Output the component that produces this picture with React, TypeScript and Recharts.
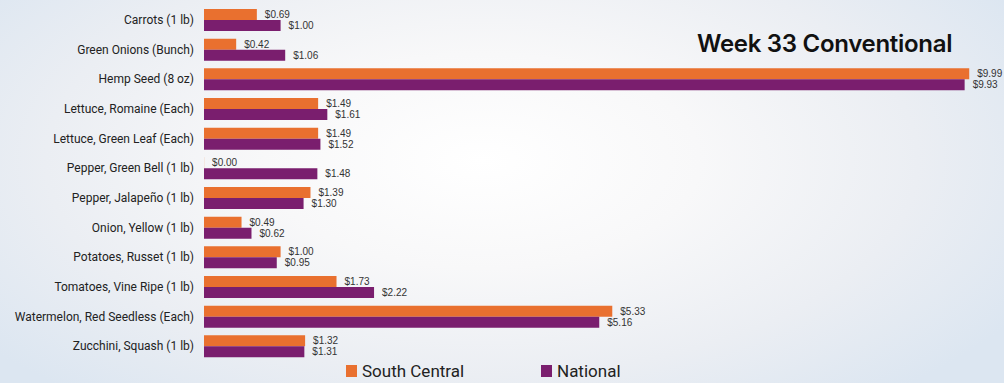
import { Bar, BarChart, LabelList, XAxis, YAxis } from "recharts";

const categories = [
  "Carrots (1 lb)",
  "Green Onions (Bunch)",
  "Hemp Seed (8 oz)",
  "Lettuce, Romaine (Each)",
  "Lettuce, Green Leaf (Each)",
  "Pepper, Green Bell (1 lb)",
  "Pepper, Jalapeño (1 lb)",
  "Onion, Yellow (1 lb)",
  "Potatoes, Russet (1 lb)",
  "Tomatoes, Vine Ripe (1 lb)",
  "Watermelon, Red Seedless (Each)",
  "Zucchini, Squash (1 lb)",
];

const southCentral = [0.69, 0.42, 9.99, 1.49, 1.49, 0.0, 1.39, 0.49, 1.0, 1.73, 5.33, 1.32];
const national = [1.0, 1.06, 9.93, 1.61, 1.52, 1.48, 1.3, 0.62, 0.95, 2.22, 5.16, 1.31];

const ORANGE = "#e9702f";
const PURPLE = "#7a1e6e";

const data = categories.map((name, i) => ({
  name,
  southCentral: southCentral[i],
  national: national[i],
}));

// value label drawn at the bar end, also for zero-width bars
function ValueLabel(props: any) {
  const { x, y, width, height, value } = props;
  if (value == null) return null;
  return (
    <text
      x={Number(x) + Number(width || 0) + 8}
      y={Number(y) + Number(height) / 2}
      dominantBaseline="central"
      fontSize={10}
      fill="#333"
      fontFamily="Liberation Sans, Arial, sans-serif"
    >
      {`$${Number(value).toFixed(2)}`}
    </text>
  );
}

function CategoryTick(props: any) {
  const { x, y, payload } = props;
  return (
    <text
      x={x}
      y={y}
      textAnchor="end"
      dominantBaseline="central"
      fontSize={12}
      fill="#222"
      fontFamily="Roboto, sans-serif"
    >
      {payload.value}
    </text>
  );
}

export default function App() {
  return (
    <div
      style={{
        position: "relative",
        width: 1004,
        height: 383,
        background:
          "radial-gradient(ellipse 62% 80% at 48% 42%, #ffffff 0%, #f8f8f9 35%, #ebeef3 70%, #dce6f1 100%)",
        fontFamily: "Roboto, sans-serif",
      }}
    >
      <style>{`body{margin:0}`}</style>
      <BarChart
        width={1004}
        height={383}
        data={data}
        layout="vertical"
        margin={{ top: 5, right: 34, bottom: 22, left: 0 }}
        barGap={0}
        barSize={11}
      >
        <XAxis type="number" hide domain={[0, 10]} />
        <YAxis
          type="category"
          dataKey="name"
          width={204}
          axisLine={false}
          tickLine={false}
          tickMargin={4}
          interval={0}
          tick={<CategoryTick />}
        />
        <Bar dataKey="southCentral" fill={ORANGE} minPointSize={0.1} isAnimationActive={false}>
          <LabelList dataKey="southCentral" content={<ValueLabel />} />
        </Bar>
        <Bar dataKey="national" fill={PURPLE} isAnimationActive={false}>
          <LabelList dataKey="national" content={<ValueLabel />} />
        </Bar>
      </BarChart>
      <div
        style={{
          position: "absolute",
          left: 697,
          top: 29,
          fontSize: 24,
          fontWeight: 600,
          letterSpacing: -0.3,
          color: "#111",
          whiteSpace: "nowrap",
          fontFamily: "Inter, sans-serif",
        }}
      >
        Week 33 Conventional
      </div>
      <div
        style={{
          position: "absolute",
          top: 361,
          left: 346,
          display: "flex",
          alignItems: "center",
          fontSize: 17,
          color: "#222",
          whiteSpace: "nowrap",
        }}
      >
        <span style={{ display: "inline-block", width: 11, height: 12, background: ORANGE, marginRight: 5 }} />
        <span style={{ width: 179 }}>South Central</span>
        <span style={{ display: "inline-block", width: 11, height: 12, background: PURPLE, marginRight: 5 }} />
        <span>National</span>
      </div>
    </div>
  );
}
